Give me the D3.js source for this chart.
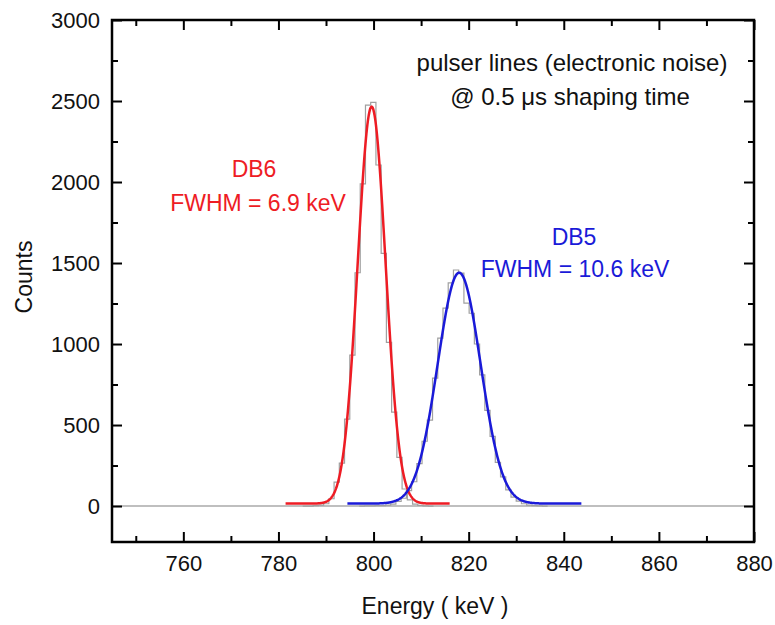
<!DOCTYPE html>
<html>
<head>
<meta charset="utf-8">
<script src="https://cdn.jsdelivr.net/npm/d3@7"></script>
<style>
  body { margin: 0; background: #fff; }
  svg text { font-family: "Liberation Sans", Arial, Helvetica, sans-serif; }
</style>
</head>
<body>
<div id="chart"></div>
<script>
// histogram bins (left edge in keV, width 1.1 keV) and counts
var binWidth = 1.1;
var db6Start = 785.1;
var db6Counts = [0, 0, 2, 5, 14, 45, 148, 265, 537, 932, 1440, 1988, 2475, 2492, 2105, 1560, 1010, 580, 300, 105, 38, 12, 4, 1, 0];
var db5Start = 797.0;
var db5Counts = [0, 1, 1, 2, 3, 5, 12, 28, 48, 95, 150, 262, 400, 530, 790, 1037, 1222, 1378, 1457, 1438, 1253, 1190, 1000, 810, 590, 430, 270, 180, 100, 55, 30, 14, 6, 3, 1, 0];

// gaussian fit parameters (centre, amplitude, FWHM, offset, drawn range)
var db6Fit = {mu: 799.6, amp: 2450, fwhm: 6.9, base: 15, from: 781.5, to: 816};
var db5Fit = {mu: 818.0, amp: 1425, fwhm: 10.6, base: 15, from: 794.5, to: 843.7};

var xTicks = [760, 780, 800, 820, 840, 860, 880];
var yTicks = [0, 500, 1000, 1500, 2000, 2500, 3000];

var W = 775, H = 625;
var margin = {top: 20, right: 21, bottom: 83, left: 112};
var width = W - margin.left - margin.right,
    height = H - margin.top - margin.bottom;

var svg = d3.select("#chart").append("svg")
    .attr("width", W)
    .attr("height", H)
    .append("g")
    .attr("transform", "translate(" + margin.left + "," + margin.top + ")");

var x = d3.scaleLinear().domain([745, 880]).range([0, width]);
var y = d3.scaleLinear().domain([-222, 3000]).range([height, 0]);

// zero line
svg.append("line")
    .attr("x1", 0).attr("x2", width)
    .attr("y1", y(0)).attr("y2", y(0))
    .attr("stroke", "#aaa").attr("stroke-width", 1.5);

// histograms
function histPoints(start, counts) {
    var pts = [];
    counts.forEach(function(c, i) { pts.push({e: start + i * binWidth, c: c}); });
    pts.push({e: start + counts.length * binWidth, c: counts[counts.length - 1]});
    return pts;
}
var stepLine = d3.line()
    .x(function(d) { return x(d.e); })
    .y(function(d) { return y(d.c); })
    .curve(d3.curveStepAfter);

[[db6Start, db6Counts], [db5Start, db5Counts]].forEach(function(h) {
    svg.append("path")
        .datum(histPoints(h[0], h[1]))
        .attr("d", stepLine)
        .attr("fill", "none")
        .attr("stroke", "#a0a0a0")
        .attr("stroke-width", 1.2);
});

// fit curves
function fitPoints(f) {
    var s = f.fwhm / 2.3548, pts = [];
    for (var e = f.from; e <= f.to + 1e-9; e += 0.1) {
        pts.push({e: e, c: f.base + f.amp * Math.exp(-(e - f.mu) * (e - f.mu) / (2 * s * s))});
    }
    return pts;
}
var fitLine = d3.line()
    .x(function(d) { return x(d.e); })
    .y(function(d) { return y(d.c); });

svg.append("path").datum(fitPoints(db6Fit)).attr("d", fitLine)
    .attr("fill", "none").attr("stroke", "#ee1c24").attr("stroke-width", 2.5);
svg.append("path").datum(fitPoints(db5Fit)).attr("d", fitLine)
    .attr("fill", "none").attr("stroke", "#1a1ad8").attr("stroke-width", 2.5);

// axes (ticks inward, frame all round)
var xMinor = d3.range(750, 880, 20);
var yMinor = d3.range(250, 3000, 500);
function styleAxis(g) {
    g.select(".domain").remove();
    g.selectAll("line").attr("stroke", "#000").attr("stroke-width", 2);
    g.selectAll("text").attr("font-size", 22).attr("fill", "#111");
}
svg.append("g").attr("transform", "translate(0," + height + ")")
    .call(d3.axisBottom(x).tickValues(xTicks).tickSize(-10).tickPadding(13).tickFormat(d3.format("d")))
    .call(styleAxis);
svg.append("g").attr("transform", "translate(0," + height + ")")
    .call(d3.axisBottom(x).tickValues(xMinor).tickSize(-6).tickFormat(""))
    .call(styleAxis);
svg.append("g")
    .call(d3.axisTop(x).tickValues(xTicks).tickSize(-10).tickFormat(""))
    .call(styleAxis);
svg.append("g")
    .call(d3.axisTop(x).tickValues(xMinor).tickSize(-6).tickFormat(""))
    .call(styleAxis);
svg.append("g")
    .call(d3.axisLeft(y).tickValues(yTicks).tickSize(-10).tickPadding(12).tickFormat(d3.format("d")))
    .call(styleAxis);
svg.append("g")
    .call(d3.axisLeft(y).tickValues(yMinor).tickSize(-6).tickFormat(""))
    .call(styleAxis);
svg.append("g").attr("transform", "translate(" + width + ",0)")
    .call(d3.axisRight(y).tickValues(yTicks).tickSize(-10).tickFormat(""))
    .call(styleAxis);
svg.append("g").attr("transform", "translate(" + width + ",0)")
    .call(d3.axisRight(y).tickValues(yMinor).tickSize(-6).tickFormat(""))
    .call(styleAxis);

svg.append("rect")
    .attr("width", width).attr("height", height)
    .attr("fill", "none").attr("stroke", "#000").attr("stroke-width", 2.5);

// axis titles
svg.append("text")
    .attr("text-anchor", "middle")
    .attr("x", width / 2 + 2).attr("y", height + 72)
    .attr("font-size", 23).attr("fill", "#111")
    .text("Energy ( keV )");
svg.append("text")
    .attr("text-anchor", "middle")
    .attr("transform", "translate(" + (-80) + "," + (height / 2 - 4) + ") rotate(-90)")
    .attr("font-size", 23).attr("fill", "#111")
    .text("Counts");

// annotations
function note(txt, px, py, col, fs) {
    svg.append("text")
        .attr("text-anchor", "middle")
        .attr("x", px - margin.left).attr("y", py - margin.top)
        .attr("font-size", fs).attr("fill", col)
        .text(txt);
}
note("pulser lines (electronic noise)", 572, 71, "#111", 24);
note("@ 0.5 \u03bcs shaping time", 570, 105, "#111", 24);
note("DB6", 254, 177, "#ee1c24", 23);
note("FWHM = 6.9 keV", 258, 211, "#ee1c24", 23);
note("DB5", 574, 245, "#1a1ad8", 23);
note("FWHM = 10.6 keV", 575, 277, "#1a1ad8", 23);
</script>
</body>
</html>
